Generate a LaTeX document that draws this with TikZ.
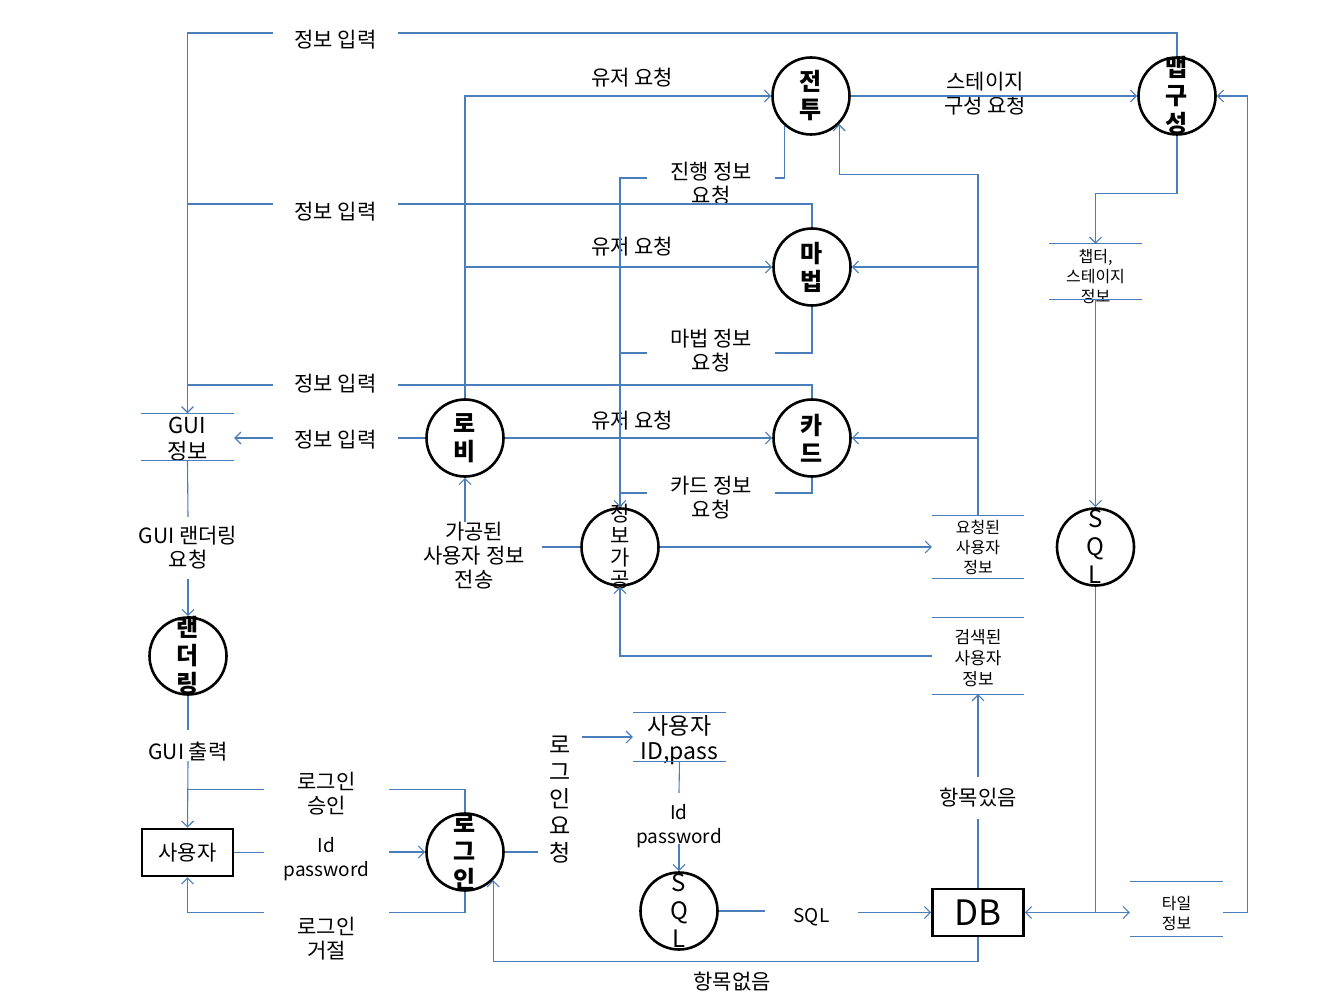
\documentclass[tikz,border=0pt]{standalone}
\usepackage{fontspec}
\setmainfont{Noto Sans CJK KR}
\usetikzlibrary{arrows.meta}
\definecolor{flowblue}{RGB}{74,126,187}
\begin{document}
\begin{tikzpicture}[x=1pt,y=-1pt,>={Straight Barb[length=6pt,width=12pt]},
  proc/.style={draw,circle,line width=2.6pt,minimum size=77pt,inner sep=0pt},
  ptext/.style={align=center,inner sep=0pt,font=\fontsize{24}{28}\selectfont\bfseries},
  ebox/.style={draw,line width=2.6pt,minimum width=91pt,minimum height=47pt,inner sep=0pt},
  store/.style 2 args={minimum width=#1,minimum height=#2,inner sep=0pt},
  stext/.style={align=center,inner sep=0pt,font=\fontsize{16}{20}\selectfont},
  lbl/.style={align=center,inner sep=0pt,font=\fontsize{21}{24}\selectfont},
  latin/.style={font=\fontsize{19}{24}\selectfont},
  flow/.style={draw=flowblue,line width=1.1pt}]
\useasboundingbox (0,0) rectangle (1344,1008);

\node[proc,label={[ptext]center:{전\\투}}] (jeontu) at (811,96) {};
\node[proc,label={[ptext]center:{맵\\구\\성}}] (mapgu) at (1177,96) {};
\node[proc,label={[ptext]center:{마\\법}}] (magic) at (812,267) {};
\node[proc,label={[ptext]center:{카\\드}}] (card) at (812,438) {};
\node[proc,label={[ptext]center:{로\\비}}] (lobby) at (465,438) {};
\node[proc,label={[ptext,font=\fontsize{21}{22}\selectfont]center:{정\\보\\가\\공}}] (infoproc) at (620,547) {};
\node[proc,label={[ptext,font=\fontsize{24}{28}\selectfont]center:{S\\Q\\L}}] (sqlr) at (1095.5,547) {};
\node[proc,label={[ptext]center:{랜\\더\\링}}] (render) at (188,656) {};
\node[proc,label={[ptext]center:{로\\그\\인}}] (login) at (465,852) {};
\node[proc,label={[ptext,font=\fontsize{24}{28}\selectfont]center:{S\\Q\\L}}] (sqlb) at (679,911) {};

\node[ebox,font=\fontsize{21}{24}\selectfont] (user) at (187.5,852.5) {사용자};
\node[ebox,font=\fontsize{35}{40}\selectfont] (db) at (978,912.5) {DB};

\node[store={93pt}{47pt},label={[stext,yshift=-2.5pt,font=\fontsize{22}{26}\selectfont]center:{GUI\\정보}}] (guiinfo) at (187.5,437) {};
\node[store={92pt}{55pt},label={[stext,yshift=-5pt]center:{챕터,\\스테이지\\정보}}] (chapter) at (1095.5,271.5) {};
\node[store={92pt}{62pt},label={[stext]center:{요청된\\사용자\\정보}}] (reqinfo) at (978,547) {};
\node[store={92pt}{76pt},label={[stext,yshift=-2pt,font=\fontsize{17}{21}\selectfont]center:{검색된\\사용자\\정보}}] (srchinfo) at (978,656) {};
\node[store={93pt}{48pt},label={[stext,yshift=-3pt,font=\fontsize{23}{25}\selectfont]center:{사용자\\ID,pass}}] (idpass) at (679.5,737) {};
\node[store={93pt}{54pt},label={[stext,yshift=-4pt]center:{타일\\정보}}] (tile) at (1176.5,909) {};

\path[draw,flow] (guiinfo.north west) -- (guiinfo.north east) (guiinfo.south west) -- (guiinfo.south east);
\path[draw,flow] (chapter.north west) -- (chapter.north east) (chapter.south west) -- (chapter.south east);
\path[draw,flow] (reqinfo.north west) -- (reqinfo.north east) (reqinfo.south west) -- (reqinfo.south east);
\path[draw,flow] (srchinfo.north west) -- (srchinfo.north east) (srchinfo.south west) -- (srchinfo.south east);
\path[draw,flow] (idpass.north west) -- (idpass.north east) (idpass.south west) -- (idpass.south east);
\path[draw,flow] (tile.north west) -- (tile.north east) (tile.south west) -- (tile.south east);

\node[lbl,minimum width=125pt] (info1) at (335.5,40) {정보 입력};
\node[lbl,minimum width=125pt] (info2) at (335.5,212) {정보 입력};
\node[lbl,minimum width=125pt] (info3) at (335.5,383.5) {정보 입력};
\node[lbl,minimum width=125pt] (info4) at (335.5,440) {정보 입력};
\node[lbl] (req1) at (632,78) {유저 요청};
\node[lbl] (req2) at (632,247) {유저 요청};
\node[lbl] (req3) at (632,421) {유저 요청};
\node[lbl] (stage) at (985,94) {스테이지\\구성 요청};
\node[lbl,minimum width=127pt] (prog) at (711,184) {진행 정보\\요청};
\node[lbl,minimum width=127pt] (magreq) at (711,351) {마법 정보\\요청};
\node[lbl,minimum width=127pt] (cardreq) at (711,497.5) {카드 정보\\요청};
\node[lbl,minimum width=136pt] (sent) at (474,556) {가공된\\사용자 정보\\전송};
\node[lbl,minimum height=62pt] (rreq) at (188,548) {GUI 랜더링\\요청};
\node[lbl,minimum height=32pt] (gout) at (188,752) {GUI 출력};
\node[lbl,minimum width=125pt] (approve) at (326.5,793.5) {로그인\\승인};
\node[lbl,latin,minimum width=125pt] (idpw1) at (326.5,859.5) {Id\\password};
\node[lbl,minimum width=125pt,minimum height=52pt] (reject) at (326.5,939) {로그인\\거절};
\node[lbl,minimum width=44pt,font=\fontsize{23}{27}\selectfont] (lreq) at (560,800) {로\\그\\인\\요\\청};
\node[lbl,latin,minimum height=52pt] (idpw2) at (679,826) {Id\\password};
\node[lbl,latin,minimum width=93pt] (sqlt) at (811.5,917) {SQL};
\node[lbl,minimum height=30pt] (hasitem) at (978,798) {항목있음};
\node[lbl] (noitem) at (732,982) {항목없음};

\path[draw,flow] (mapgu.north) |- ([yshift=7pt]info1.east);
\path[draw,flow,->] ([yshift=7pt]info1.west) -| (guiinfo.north);
\path[draw,flow] (magic.north) |- ([yshift=8pt]info2.east);
\path[draw,flow] ([yshift=8pt]info2.west) -- ([yshift=8pt]info2.west -| guiinfo.north);
\path[draw,flow] (card.north) |- ([yshift=-1.5pt]info3.east);
\path[draw,flow] ([yshift=-1.5pt]info3.west) -- ([yshift=-1.5pt]info3.west -| guiinfo.north);
\path[draw,flow] (lobby.west) -- (lobby.west -| info4.east);
\path[draw,flow,->] (lobby.west -| info4.west) -- (lobby.west -| guiinfo.east);

\path[draw,flow,->] (lobby.north) |- (jeontu.west);
\path[draw,flow,->] (lobby.north |- magic.west) -- (magic.west);
\path[draw,flow,->] (lobby.east) -- (card.west);
\path[draw,flow,->] (jeontu.east) -- (mapgu.west);

\path[draw,flow] (jeontu.-132) |- ([yshift=6pt]prog.east);
\path[draw,flow,->] ([yshift=6pt]prog.west) -| (infoproc.north);
\path[draw,flow] (magic.south) |- ([yshift=-2pt]magreq.east);
\path[draw,flow] ([yshift=-2pt]magreq.west) -- ([yshift=-2pt]magreq.west -| infoproc.north);
\path[draw,flow] (card.south) |- ([yshift=4.5pt]cardreq.east);
\path[draw,flow] ([yshift=4.5pt]cardreq.west) -- ([yshift=4.5pt]cardreq.west -| infoproc.north);

\path[draw,flow,->] (infoproc.east) -- (reqinfo.west);
\path[draw,flow,->] (reqinfo.north) -- ++(0,-341) -| (jeontu.-45);
\path[draw,flow,->] (reqinfo.north |- magic.east) -- (magic.east);
\path[draw,flow,->] (reqinfo.north |- card.east) -- (card.east);
\path[draw,flow] (infoproc.west) -- (sent.east |- infoproc.west);
\path[draw,flow,->] (sent.north -| lobby.south) -- (lobby.south);
\path[draw,flow,->] (srchinfo.west) -| (infoproc.south);

\path[draw,flow] (guiinfo.south) -- (rreq.north);
\path[draw,flow,->] (rreq.south) -- (render.north);
\path[draw,flow] (render.south) -- ([yshift=6pt]gout.north);
\path[draw,flow,->] ([yshift=7pt]gout.south) -- (user.north);

\path[draw,flow] (login.north) |- ([yshift=4pt]approve.east);
\path[draw,flow] ([yshift=4pt]approve.west) -- ([yshift=4pt]approve.west -| user.north);
\path[draw,flow] (user.east) -- (user.east -| idpw1.west);
\path[draw,flow,->] (idpw1.east |- login.west) -- (login.west);
\path[draw,flow] (login.south) |- (reject.north east);
\path[draw,flow,->] (reject.north west) -| (user.south);

\path[draw,flow] (login.east) -- (login.east -| lreq.west);
\path[draw,flow,->] (lreq.east |- idpass.west) -- (idpass.west);
\path[draw,flow] (idpass.south) -- ([yshift=7pt]idpw2.north);
\path[draw,flow,->] ([yshift=8pt]idpw2.south) -- (sqlb.north);
\path[draw,flow] (sqlb.east) -- (sqlb.east -| sqlt.west);
\path[draw,flow,->] (sqlt.east |- db.west) -- (db.west);
\path[draw,flow,->] (db.south) -- ++(0,24) -| (login.-45);
\path[draw,flow] (db.north) -- ([yshift=-6pt]hasitem.south);
\path[draw,flow,->] ([yshift=6pt]hasitem.north) -- (srchinfo.south);

\path[draw,flow,->] (mapgu.south) -- ++(0,58) -| (chapter.north);
\path[draw,flow,->] (chapter.south) -- (sqlr.north);
\path[draw,flow,->] (sqlr.south) |- (db.east);
\path[draw,flow,->] (sqlr.south |- db.east) -- (tile.west |- db.east);
\path[draw,flow,->] (tile.east |- db.east) -- ++(24,0) |- (mapgu.east);
\end{tikzpicture}
\end{document}
